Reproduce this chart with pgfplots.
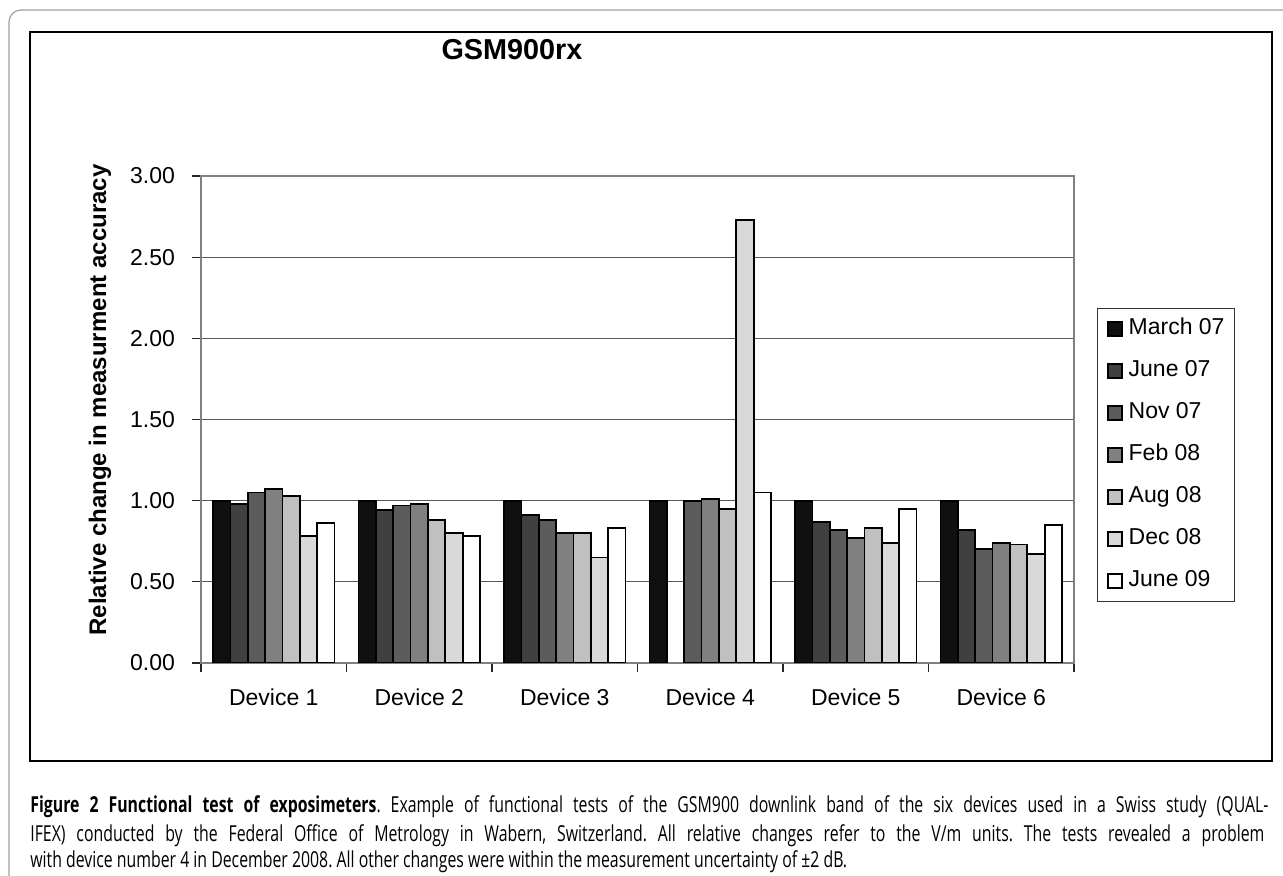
\documentclass[border=0pt]{standalone}
\usepackage{fontspec}
\setmainfont{Liberation Sans}
\newfontfamily\capfont[FakeStretch=0.72]{Open Sans}
\usepackage{pgfplots}
\pgfplotsset{compat=1.18}

\definecolor{cMar}{HTML}{101010}
\definecolor{cJun}{HTML}{404040}
\definecolor{cNov}{HTML}{5C5C5C}
\definecolor{cFeb}{HTML}{808080}
\definecolor{cAug}{HTML}{C0C0C0}
\definecolor{cDec}{HTML}{D9D9D9}
\definecolor{cJn9}{HTML}{FFFFFF}
\definecolor{frame}{HTML}{A0A0A0}

\begin{document}
\frenchspacing
\begin{tikzpicture}[x=0.5pt,y=0.5pt]
% 1 px of the reference = 0.5pt, y counted from the bottom
\useasboundingbox (0,0) rectangle (1283,876);
\draw[frame, line width=0.6pt] (9,0) -- (9,854) arc[start angle=180,end angle=90,radius=12] -- (1283,866);
\draw[black, line width=0.75pt] (30,115) rectangle (1272,844);

\begin{axis}[
  at={(100.5pt,106.5pt)}, anchor=south west,
  scale only axis, width=436.5pt, height=243.5pt,
  ybar=0pt, bar width=8.67pt,
  xmin=-0.5, xmax=5.5, ymin=0, ymax=3,
  xtick={-0.5,0.5,1.5,2.5,3.5,4.5,5.5},
  xticklabels={Device 1,Device 2,Device 3,Device 4,Device 5,Device 6,{}},
  xticklabel style={xshift=36.4pt, yshift=-5pt},
  ytick={0,0.5,1,1.5,2,2.5,3},
  yticklabel style={/pgf/number format/fixed, /pgf/number format/fixed zerofill,
    /pgf/number format/precision=2, xshift=-5pt},
  /pgf/number format/assume math mode=true,
  tick label style={font=\fontsize{11.5}{13}\selectfont},
  tick align=outside, major tick length=4.5pt,
  xtick pos=bottom, ytick pos=left,
  tick style={black!85, line width=0.6pt},
  ymajorgrids, grid style={black!65, line width=0.5pt},
  axis line style={draw=black!50, line width=0.8pt},
  legend image code/.code={\draw[#1, line width=0.6pt] (0pt,-3.5pt) rectangle (7pt,3.5pt);},
  legend cell align=left,
  legend style={at={(1.0263,0.729)}, anchor=north west, draw=black!80, line width=0.5pt,
    font=\fontsize{11.5}{13}\selectfont, row sep=10pt, column sep=3pt,
    inner xsep=5pt, inner ysep=4.75pt,
    nodes={inner sep=0pt, text height=8.5pt, text depth=2.5pt, anchor=west}},
  every axis plot/.append style={draw=black, line width=0.9pt},
]
\addplot[fill=cMar] coordinates {(0,1.00) (1,1.00) (2,1.00) (3,1.00) (4,1.00) (5,1.00)};
\addplot[fill=cJun] coordinates {(0,0.98) (1,0.94) (2,0.91) (4,0.87) (5,0.82)};
\addplot[fill=cNov] coordinates {(0,1.05) (1,0.97) (2,0.88) (3,1.00) (4,0.82) (5,0.70)};
\addplot[fill=cFeb] coordinates {(0,1.07) (1,0.98) (2,0.80) (3,1.01) (4,0.77) (5,0.74)};
\addplot[fill=cAug] coordinates {(0,1.03) (1,0.88) (2,0.80) (3,0.95) (4,0.83) (5,0.73)};
\addplot[fill=cDec] coordinates {(0,0.78) (1,0.80) (2,0.65) (3,2.73) (4,0.74) (5,0.67)};
\addplot[fill=cJn9] coordinates {(0,0.86) (1,0.78) (2,0.83) (3,1.05) (4,0.95) (5,0.85)};
\legend{March 07,June 07,Nov 07,Feb 08,Aug 08,Dec 08,June 09}
\end{axis}

\node[font=\bfseries\fontsize{14.4}{16}\selectfont] at (512,826) {GSM900rx};
\node[rotate=90, font=\bfseries\fontsize{12}{14}\selectfont] at (100,476)
  {Relative change in measurment accuracy};

\begin{scope}[every node/.style={anchor=base west, inner sep=0pt, font=\capfont\fontsize{11}{13}\selectfont}]
\node at (30,63) {\makebox[619pt][s]{\textbf{Figure 2 Functional test of exposimeters}. Example of functional tests of the GSM900 downlink band of the six devices used in a Swiss study (QUAL-}};
\node at (30,34) {\makebox[617pt][s]{IFEX) conducted by the Federal Office of Metrology in Wabern, Switzerland. All relative changes refer to the V/m units. The tests revealed a problem}};
\node at (30,8) {with device number 4 in December 2008. All other changes were within the measurement uncertainty of ±2 dB.};
\end{scope}
\end{tikzpicture}
\end{document}
